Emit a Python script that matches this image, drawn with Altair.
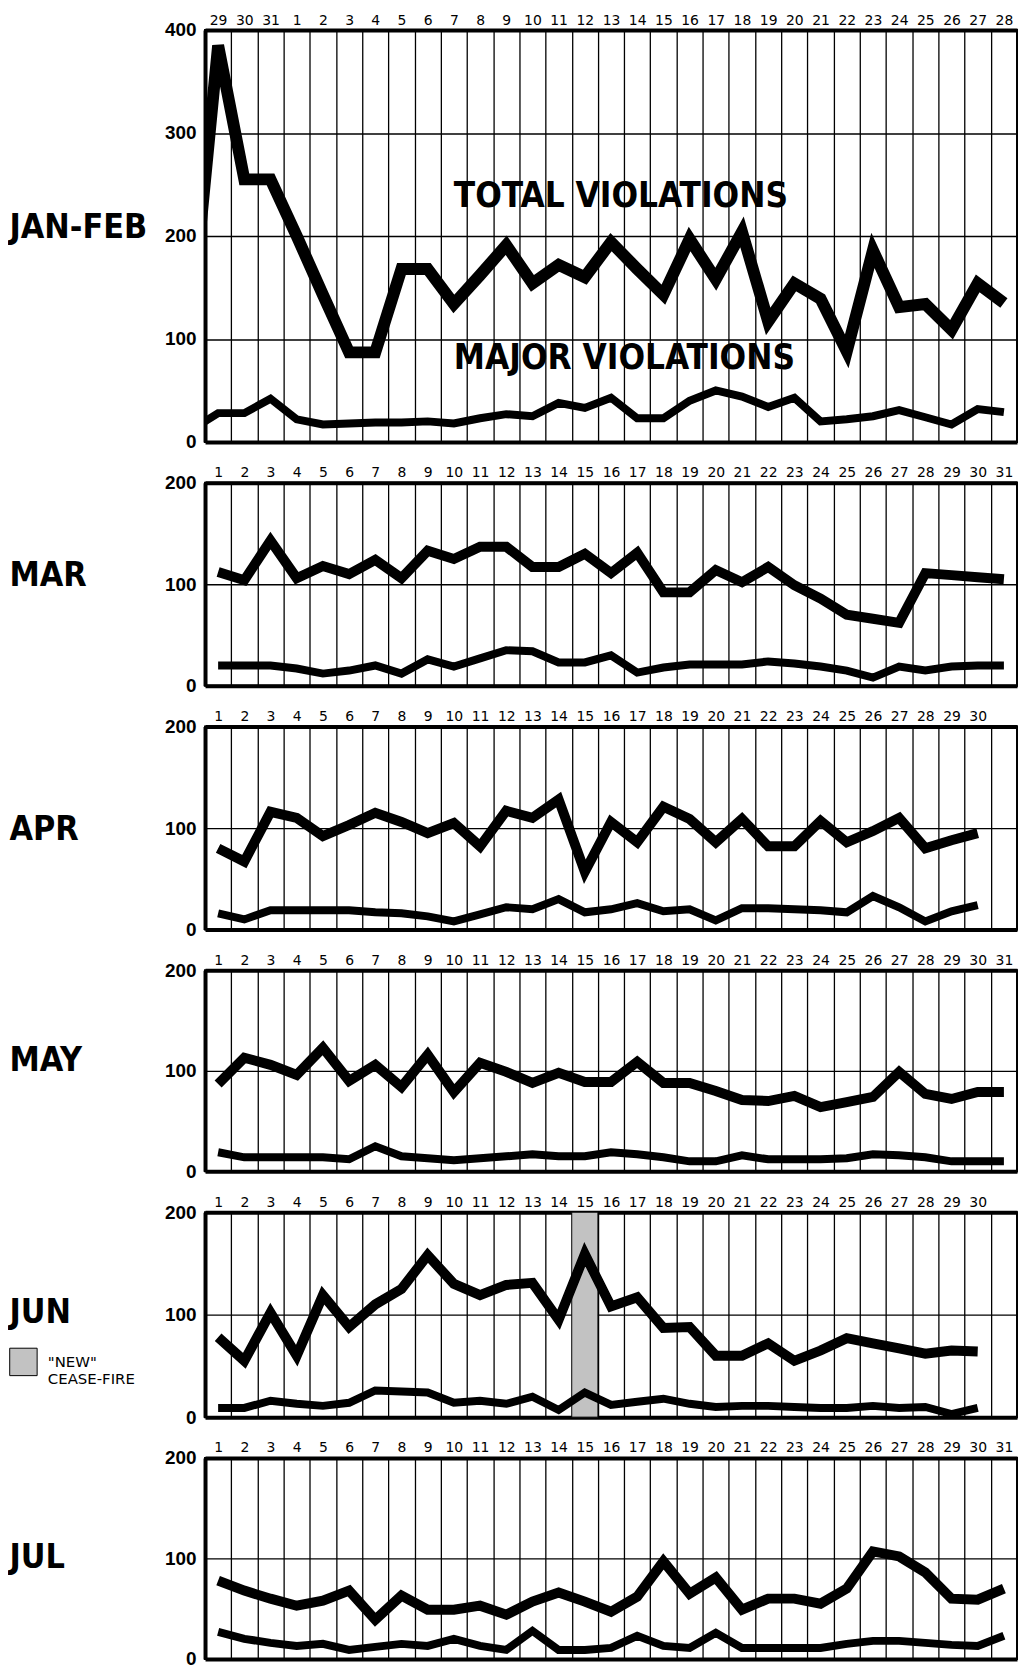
import altair as alt
import pandas as pd

# ---------------- data ----------------
janfeb_days = ["29", "30", "31"] + [str(d) for d in range(1, 29)]
janfeb_total = [385, 255, 255, 200, 143, 87, 87, 168, 168, 134, 162, 191, 154, 172, 160,
                194, 168, 143, 197, 158, 204, 117, 154, 139, 88, 186, 131, 134, 109, 154, 135]
janfeb_major = [28, 28, 42, 22, 17, 18, 19, 19, 20, 18, 23, 27, 25, 38, 33,
                43, 23, 23, 40, 50, 44, 34, 43, 20, 22, 25, 31, 24, 17, 32, 29]
janfeb_lead_total = 123   # Jan 28 (runs in from the left edge)
janfeb_lead_major = 12

mar_days = [str(d) for d in range(1, 32)]
mar_total = [112, 104, 143, 106, 118, 110, 124, 106, 133, 125, 137, 137, 117, 117, 130, 111,
             131, 92, 92, 114, 102, 117, 99, 86, 70, 66, 62, 111, 109, 107, 105]
mar_major = [20, 20, 20, 17, 12, 15, 20, 12, 26, 19, 27, 35, 34, 23, 23, 30,
             13, 18, 21, 21, 21, 24, 22, 19, 15, 8, 19, 15, 19, 20, 20]

apr_days = [str(d) for d in range(1, 31)]
apr_total = [80, 67, 116, 110, 92, 103, 115, 106, 95, 105, 82, 117, 110, 128, 57,
             106, 86, 121, 109, 86, 109, 82, 82, 107, 86, 97, 110, 80, 88, 95]
apr_major = [16, 10, 19, 19, 19, 19, 17, 16, 13, 8, 15, 22, 20, 30, 17,
             20, 26, 18, 20, 9, 21, 21, 20, 19, 17, 33, 22, 8, 18, 24]

may_days = [str(d) for d in range(1, 32)]
may_total = [87, 113, 106, 96, 123, 90, 106, 84, 116, 79, 108, 99, 88, 98, 89, 89,
             109, 88, 88, 80, 71, 70, 75, 64, 69, 74, 99, 77, 72, 79, 79]
may_major = [19, 14, 14, 14, 14, 12, 25, 15, 13, 11, 13, 15, 17, 15, 15, 19,
             17, 14, 10, 10, 16, 12, 12, 12, 13, 17, 16, 14, 10, 10, 10]

jun_days = [str(d) for d in range(1, 31)]
jun_total = [78, 55, 102, 60, 119, 88, 110, 125, 158, 130, 119, 129, 131, 95, 159,
             108, 117, 87, 88, 60, 60, 72, 55, 65, 77, 72, 67, 62, 65, 64]
jun_major = [9, 9, 16, 13, 11, 14, 26, 25, 24, 14, 16, 13, 20, 7, 24,
             12, 15, 18, 13, 10, 11, 11, 10, 9, 9, 11, 9, 10, 3, 9]
jun_ceasefire_day = [15]
jun_ceasefire_label = ['"NEW" CEASE-FIRE']

jul_days = [str(d) for d in range(1, 32)]
jul_total = [78, 68, 60, 53, 58, 68, 39, 63, 49, 49, 53, 44, 57, 66, 57, 47,
             62, 97, 65, 81, 49, 60, 60, 55, 70, 107, 102, 86, 60, 59, 70]
jul_major = [27, 20, 16, 13, 15, 9, 12, 15, 13, 20, 13, 9, 28, 9, 9, 11,
             23, 13, 11, 26, 11, 11, 11, 11, 15, 18, 18, 16, 14, 13, 23]

annot_text = ["TOTAL VIOLATIONS", "MAJOR VIOLATIONS"]
annot_pos = [10.0, 10.0]
annot_val = [239, 81]

# ---------------- styling ----------------
COND = "DejaVu Sans Condensed, Liberation Sans Narrow, Liberation Sans, sans-serif"
NUMF = "Liberation Sans"
DAYF = "DejaVu Sans"
W = 816
GRID_POS = [k + 0.5 for k in range(1, 31)]


def panel(name, days, total, major, ymax, height, title_y,
          lead_total=None, lead_major=None, shade_day=None, shade_label=None,
          annotate=False, total_width=10):
    pos = list(range(1, len(total) + 1))
    tpos, tval = list(pos), list(total)
    mpos, mval = list(pos), list(major)
    if lead_total is not None:
        tpos = [0] + tpos
        tval = [lead_total] + tval
        mpos = [0] + mpos
        mval = [lead_major] + mval
    df_t = pd.DataFrame({"pos": tpos, "v": tval})
    df_m = pd.DataFrame({"pos": mpos, "v": mval})

    label_arr = "[" + ",".join("'%s'" % d for d in days) + "]"
    xs = alt.Scale(domain=[0.5, 31.5], nice=False, zero=False)
    ys = alt.Scale(domain=[0, ymax], nice=False, zero=True)

    yaxis = alt.Axis(values=list(range(0, ymax + 1, 100)), grid=True, gridColor="black",
                     gridWidth=1.3, gridOpacity=1, domain=True, domainColor="black",
                     domainWidth=4, ticks=False, labelFont=NUMF, labelFontWeight="bold",
                     labelFontSize=19, labelColor="black", labelPadding=9,
                     title=name, titleAngle=0, titleAlign="left", titleBaseline="middle",
                     titleX=-197, titleY=title_y, titleFont=COND, titleFontSize=34,
                     titleFontWeight="bold", titleColor="black")
    top_axis = alt.Axis(orient="top", values=list(range(1, 32)),
                        labelExpr=label_arr + "[datum.value - 1] || ''",
                        ticks=False, tickSize=0, grid=False, domainColor="black",
                        domainWidth=4, labelFont=DAYF, labelFontSize=14,
                        labelColor="black", labelPadding=3, labelAngle=0,
                        labelOverlap=False, labelFlush=False, labelBound=False, title=None)
    bottom_axis = alt.Axis(orient="bottom", values=GRID_POS, grid=True, gridColor="black",
                           gridWidth=1.3, gridOpacity=1, labels=False, ticks=False,
                           domainColor="black", domainWidth=4, title=None)

    layers = []
    if shade_day is not None:
        df_s = pd.DataFrame({"day": shade_day, "label": shade_label})
        shade = alt.Chart(df_s).transform_calculate(
            x0="datum.day - 0.5", x1="datum.day + 0.5"
        ).mark_rect(stroke="black", strokeWidth=1).encode(
            x=alt.X("x0:Q", scale=xs, axis=None),
            x2="x1:Q",
            y=alt.Y("lo:Q", scale=ys, axis=yaxis),
            y2="hi:Q",
            fill=alt.Fill("label:N", scale=alt.Scale(range=["#c2c2c2"]),
                          legend=alt.Legend(orient="none", legendX=-197, legendY=136,
                                            title=None, symbolType="square", symbolSize=760,
                                            symbolStrokeColor="black", symbolStrokeWidth=1,
                                            symbolOpacity=1,
                                            labelExpr="['\"NEW\"', 'CEASE-FIRE']",
                                            labelFont=DAYF, labelFontSize=15,
                                            labelColor="black", labelOffset=10, padding=0)),
        ).transform_calculate(lo="0", hi=str(ymax))
        layers.append(shade)

    tline = alt.Chart(df_t).mark_line(color="black", strokeWidth=total_width,
                                      strokeJoin="miter", strokeMiterLimit=4,
                                      clip=True).encode(
        x=alt.X("pos:Q", scale=xs, axis=top_axis),
        y=alt.Y("v:Q", scale=ys, axis=yaxis),
    )
    mline = alt.Chart(df_m).mark_line(color="black", strokeWidth=8,
                                      strokeJoin="miter", strokeMiterLimit=4,
                                      clip=True).encode(
        x=alt.X("pos:Q", scale=xs, axis=bottom_axis),
        y=alt.Y("v:Q", scale=ys, axis=yaxis),
    )
    layers += [tline, mline]

    if annotate:
        df_a = pd.DataFrame({"pos": annot_pos, "v": annot_val, "text": annot_text})
        ann = alt.Chart(df_a).mark_text(align="left", baseline="middle", font=COND,
                                        fontSize=35, fontWeight="bold",
                                        color="black").encode(
            x=alt.X("pos:Q", scale=xs, axis=None),
            y=alt.Y("v:Q", scale=ys, axis=yaxis),
            text="text:N",
        )
        layers.append(ann)

    return alt.layer(*layers).resolve_axis(x="independent").properties(
        width=W, height=height)


p1 = panel("JAN-FEB", janfeb_days, janfeb_total, janfeb_major, 400, 414, 199,
           lead_total=janfeb_lead_total, lead_major=janfeb_lead_major,
           annotate=True, total_width=12)
p2 = panel("MAR", mar_days, mar_total, mar_major, 200, 204, 93)
p3 = panel("APR", apr_days, apr_total, apr_major, 200, 204, 103)
p4 = panel("MAY", may_days, may_total, may_major, 200, 202, 91)
p5 = panel("JUN", jun_days, jun_total, jun_major, 200, 206, 101,
           shade_day=jun_ceasefire_day, shade_label=jun_ceasefire_label)
p6 = panel("JUL", jul_days, jul_total, jul_major, 200, 202, 100)

chart = alt.vconcat(p1, p2, p3, p4, p5, p6, spacing=41, bounds="flush").resolve_scale(
    fill="independent"
).properties(
    padding={"left": 0, "top": 0, "right": 0, "bottom": 0},
    background="white",
).configure_view(stroke="black", strokeWidth=2)

chart.save("out.html", embed_options={"renderer": "svg", "actions": False})
